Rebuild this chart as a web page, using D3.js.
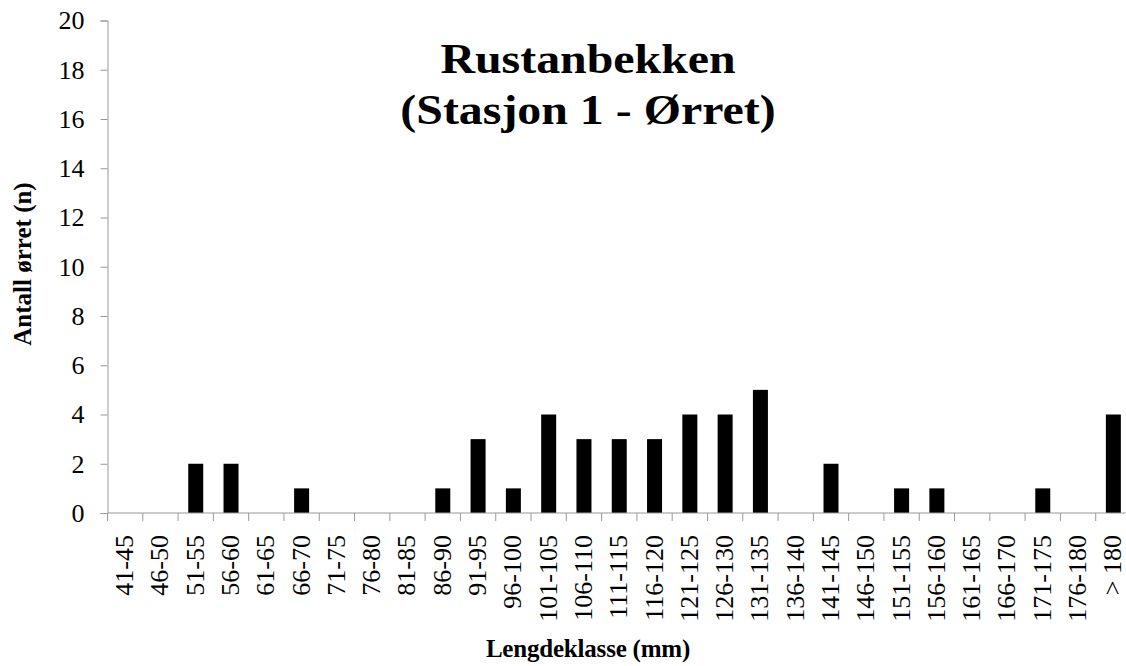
<!DOCTYPE html>
<html>
<head>
<meta charset="utf-8">
<script src="https://cdn.jsdelivr.net/npm/d3@7"></script>
<style>
  body { margin: 0; background: #fff; }
  svg { display: block; }
  svg text { font-family: 'Times New Roman', 'Liberation Serif', serif; }
</style>
</head>
<body>
<svg></svg>
<script>
const classes = ['41-45', '46-50', '51-55', '56-60', '61-65', '66-70', '71-75', '76-80', '81-85',
  '86-90', '91-95', '96-100', '101-105', '106-110', '111-115', '116-120', '121-125', '126-130',
  '131-135', '136-140', '141-145', '146-150', '151-155', '156-160', '161-165', '166-170',
  '171-175', '176-180', '> 180']
const counts = [0, 0, 2, 2, 0, 1, 0, 0, 0, 1, 3, 1, 4, 3, 3, 3, 4, 4, 5, 0, 2, 0, 1, 1, 0, 0, 1, 0, 4]
const yTicks = [0, 2, 4, 6, 8, 10, 12, 14, 16, 18, 20]
const titleLines = ['Rustanbekken', '(Stasjon 1 - Ørret)']
const xTitle = 'Lengdeklasse (mm)'
const yTitle = 'Antall ørret (n)'

const W = 1126
const H = 666
const pd = { top: 20.5, left: 107.5, right: -5, bottom: 153 }

const svg = d3.select('svg')
  .attr('width', W)
  .attr('height', H)

const x = d3.scaleBand()
  .domain(classes)
  .range([pd.left, W - pd.right])
  .paddingInner(0.575)
  .paddingOuter(0.2875)

const y = d3.scaleLinear()
  .domain([0, 20])
  .range([H - pd.bottom, pd.top])

// bars
svg.append('g')
  .selectAll('rect')
  .data(counts)
  .enter()
  .append('rect')
  .attr('x', (d, i) => x(classes[i]))
  .attr('y', d => y(d))
  .attr('width', x.bandwidth())
  .attr('height', d => y(0) - y(d))
  .attr('fill', '#000')

// y axis
const ya = svg.append('g')
  .attr('transform', `translate(${pd.left}, 0)`)
  .call(d3.axisLeft(y).tickValues(yTicks).tickSize(7).tickPadding(16))
ya.attr('font-family', null)
ya.selectAll('path, line').attr('stroke', '#999')
ya.selectAll('text')
  .attr('font-size', 26)
  .attr('fill', '#000')

// x axis, ticks on the category boundaries
const step = x.step()
const xa = svg.append('g')
  .attr('transform', `translate(0, ${y(0)})`)
xa.append('line')
  .attr('x1', pd.left)
  .attr('x2', W - pd.right)
  .attr('stroke', '#999')
xa.selectAll('line.tick')
  .data(d3.range(classes.length + 1))
  .enter()
  .append('line')
  .attr('class', 'tick')
  .attr('x1', i => pd.left + i * step)
  .attr('x2', i => pd.left + i * step)
  .attr('y1', 0)
  .attr('y2', 8)
  .attr('stroke', '#999')
xa.selectAll('text')
  .data(classes)
  .enter()
  .append('text')
  .attr('transform', d => `translate(${x(d) + x.bandwidth() / 2 + 8}, 22) rotate(-90)`)
  .attr('text-anchor', 'end')
  .attr('font-size', 26)
  .attr('fill', '#000')
  .text(d => d)

// title (reference is drawn a bit wide)
svg.append('g')
  .selectAll('text')
  .data(titleLines)
  .enter()
  .append('text')
  .attr('transform', (d, i) => `translate(588, ${73 + i * 51}) scale(1.14, 1)`)
  .attr('text-anchor', 'middle')
  .attr('font-size', 42)
  .attr('font-weight', 'bold')
  .text(d => d)

// axis titles
svg.append('text')
  .attr('x', 588)
  .attr('y', 657)
  .attr('text-anchor', 'middle')
  .attr('font-size', 25)
  .attr('font-weight', 'bold')
  .attr('letter-spacing', -0.2)
  .text(xTitle)

svg.append('text')
  .attr('transform', `translate(31, 264) rotate(-90)`)
  .attr('text-anchor', 'middle')
  .attr('font-size', 25)
  .attr('font-weight', 'bold')
  .text(yTitle)
</script>
</body>
</html>
